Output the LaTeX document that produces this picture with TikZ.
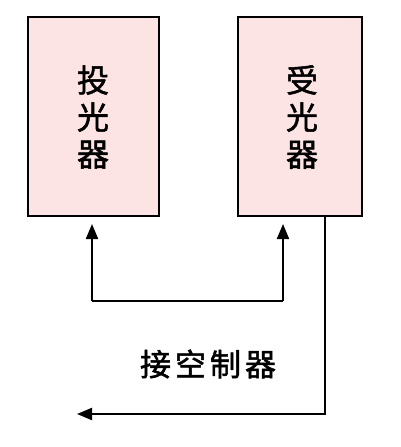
\documentclass[tikz,border=0pt]{standalone}
\usepackage{fontspec}
\newfontfamily\cjk[FakeBold=1.6]{Noto Sans CJK SC}
\usetikzlibrary{arrows.meta}
\definecolor{boxpink}{RGB}{253,228,228}
\tikzset{
  unitbox/.style={draw=black, line width=2.4pt, fill=boxpink, minimum width=131pt, minimum height=199pt, inner sep=0pt, anchor=north west},
  lbl/.style={font=\cjk\fontsize{32pt}{37pt}\selectfont, align=center, inner sep=0pt},
  conn/.style={line width=2pt, -{Triangle[length=15pt,width=12pt]}},
}
\begin{document}
\begin{tikzpicture}[x=1pt,y=-1pt]
\useasboundingbox (0,0) rectangle (400,447);
\node[unitbox] (tx) at (27,16) {};
\node[unitbox, minimum width=124pt] (rx) at (237,16) {};
\node[lbl] (txl) at (93,117) {投\\光\\器};
\node[lbl] (rxl) at (302,117) {受\\光\\器};
\coordinate (ltop) at (92,224);
\coordinate (rtop) at (283,224);
\coordinate (lbot) at (92,301);
\coordinate (rbot) at (283,301);
\draw[conn] (lbot) -- (ltop);
\draw[conn] (rbot) -- (rtop);
\draw[line width=2pt] (lbot) -- (rbot);
\coordinate (vs) at (325,215);
\coordinate (vc) at (325,414);
\coordinate (ve) at (77,414);
\draw[conn] (vs) -- (vc) -- (ve);
\node[lbl, font=\cjk\fontsize{31pt}{37pt}\selectfont] (ctl) at (208,364) {接\hspace{4pt}空\hspace{4pt}制\hspace{4pt}器};
\end{tikzpicture}
\end{document}
